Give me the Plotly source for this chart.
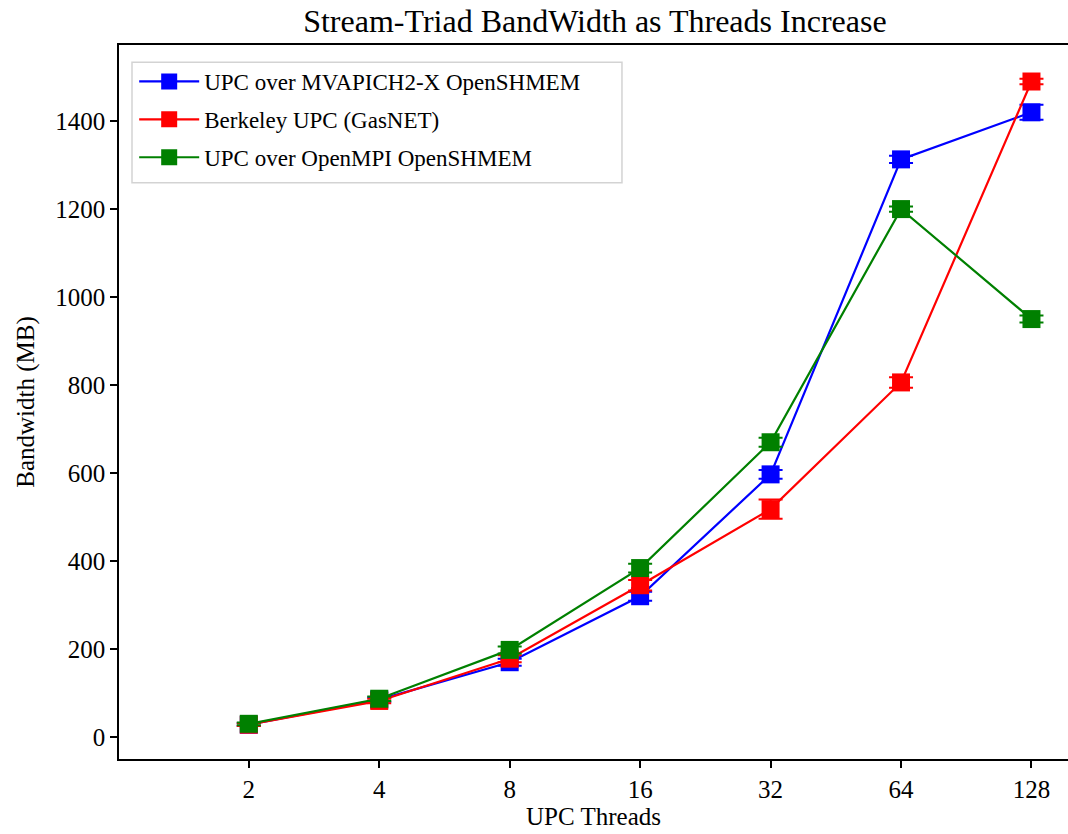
import numpy as np
import plotly.graph_objects as go

threads = [2, 4, 8, 16, 32, 64, 128]
series_names = ["UPC over MVAPICH2-X OpenSHMEM", "Berkeley UPC (GasNET)", "UPC over OpenMPI OpenSHMEM"]
mvapich = [28, 85, 170, 320, 597, 1313, 1420]
berkeley = [28, 82, 178, 345, 518, 806, 1490]
openmpi = [30, 87, 198, 384, 670, 1200, 950]
mvapich_err = [3, 5, 8, 10, 10, 8, 17]
berkeley_err = [3, 5, 8, 12, 22, 12, 6]
openmpi_err = [3, 5, 8, 10, 10, 6, 8]
colors = ["#0000ff", "#ff0000", "#008000"]

FONT = "Liberation Serif, Times New Roman, serif"

fig = go.Figure()
for i, (name, vals, errs, c) in enumerate(zip(series_names, [mvapich, berkeley, openmpi],
                               [mvapich_err, berkeley_err, openmpi_err], colors)):
    fig.add_trace(go.Scatter(
        x=threads, y=vals, name=name, mode="lines+markers", legendgroup=f"g{i}",
        line=dict(color=c, width=2.2),
        marker=dict(symbol="square", size=18, color=c),
        error_y=dict(type="data", array=errs, visible=True, color=c, thickness=2, width=12),
    ))

# legend frame (matplotlib-style box with padding)
fig.add_shape(type="rect", xref="paper", yref="paper", x0=0.0137, x1=0.530, y0=0.807, y1=0.976,
              line=dict(color="#d3d3d3", width=1.5), fillcolor="rgba(255,255,255,0.8)", layer="below")

fig.update_layout(
    width=1068, height=834,
    margin=dict(l=119, r=0, t=45, b=75),
    paper_bgcolor="white", plot_bgcolor="white",
    font=dict(family=FONT, size=25, color="black"),
    title=dict(text="Stream-Triad BandWidth as Threads Increase", x=0.557, xanchor="center",
               y=0.975, yanchor="middle", font=dict(size=32, family=FONT)),
    showlegend=True,
    legend=dict(x=0.016, y=0.979, xanchor="left", yanchor="top",
                bgcolor="rgba(0,0,0,0)", borderwidth=0,
                font=dict(size=23, family=FONT), itemwidth=60, tracegroupgap=5),
)
fig.update_xaxes(
    type="log", range=[np.log10(2 ** 0.005), np.log10(2 ** 7.28)],
    tickvals=threads, ticktext=[str(t) for t in threads],
    showgrid=False, zeroline=False, showline=True, linecolor="black", linewidth=1.5,
    mirror=True, ticks="outside", ticklen=7, tickwidth=1.5, tickcolor="black",
    tickfont=dict(size=25, family=FONT),
    title=dict(text="UPC Threads", font=dict(size=25, family=FONT), standoff=6),
)
fig.update_yaxes(
    range=[-50, 1573], tickvals=[0, 200, 400, 600, 800, 1000, 1200, 1400],
    showgrid=False, zeroline=False, showline=True, linecolor="black", linewidth=1.5,
    ticks="outside", ticklen=7, tickwidth=1.5, tickcolor="black",
    tickfont=dict(size=25, family=FONT),
    title=dict(text="Bandwidth (MB)", font=dict(size=25, family=FONT), standoff=14),
)

fig.write_html("out.html")
